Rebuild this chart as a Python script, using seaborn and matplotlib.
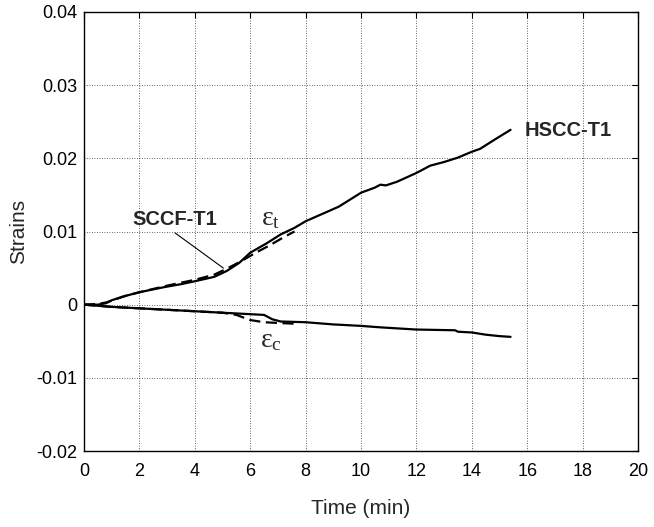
import numpy as np
import pandas as pd
import matplotlib
matplotlib.use("Agg")
import matplotlib.pyplot as plt
import seaborn as sns

# Tensile strain, HSCC-T1 (solid)
hscc_t_time = [0, 0.5, 0.8, 1.0, 1.4, 2.0, 2.9, 3.5, 4.0, 4.7, 5.15, 5.6, 6.0, 6.6, 7.1, 7.6,
               8.0, 8.6, 9.2, 10.0, 10.5, 10.7, 10.9, 11.3, 12.0, 12.5, 13.0, 13.5, 14.0,
               14.3, 14.8, 15.4]
hscc_t_strain = [0, 0.0000, 0.0002, 0.0006, 0.0011, 0.0017, 0.0024, 0.0028, 0.0032, 0.0038,
                 0.0046, 0.0057, 0.0071, 0.0084, 0.0096, 0.0105, 0.0114, 0.0124, 0.0134,
                 0.0153, 0.0160, 0.0164, 0.0163, 0.0168, 0.0180, 0.0190, 0.0195, 0.0201,
                 0.0209, 0.0213, 0.0225, 0.0239]

# Tensile strain, SCCF-T1 (dashed)
sccf_t_time = [0, 0.5, 0.8, 1.5, 2.0, 3.0, 4.0, 4.7, 5.2, 5.7, 6.2, 6.7, 7.2, 7.6]
sccf_t_strain = [0, 0.0001, 0.0003, 0.0012, 0.0017, 0.0026, 0.0034, 0.0041, 0.0050, 0.0060,
                 0.0071, 0.0081, 0.0092, 0.0100]

# Compressive strain, HSCC-T1 (solid)
hscc_c_time = [0, 1.0, 2.0, 3.0, 4.0, 5.0, 6.0, 6.5, 6.8, 7.1, 8.0, 9.0, 10.0, 10.7, 12.0,
               13.4, 13.5, 14.0, 14.5, 15.0, 15.4]
hscc_c_strain = [0, -0.0003, -0.0005, -0.0007, -0.0009, -0.0011, -0.0013, -0.0014, -0.0020,
                 -0.0023, -0.0024, -0.0027, -0.0029, -0.0031, -0.0034, -0.0035, -0.0037,
                 -0.0038, -0.0041, -0.0043, -0.0044]

# Compressive strain, SCCF-T1 (dashed)
sccf_c_time = [0, 1.0, 2.0, 3.0, 4.0, 5.0, 5.5, 6.0, 6.5, 7.0, 7.6]
sccf_c_strain = [0, -0.0003, -0.0005, -0.0007, -0.0009, -0.0011, -0.0014, -0.0021, -0.0024,
                 -0.0025, -0.0026]

x_ticks = list(range(0, 21, 2))
y_ticks = [-0.02, -0.01, 0, 0.01, 0.02, 0.03, 0.04]
y_tick_labels = ["-0.02", "-0.01", "0", "0.01", "0.02", "0.03", "0.04"]

sns.set_style("white")
plt.rcParams["font.family"] = ["Liberation Sans", "DejaVu Sans"]
plt.rcParams["axes.unicode_minus"] = False

fig = plt.figure(figsize=(6.54, 5.27), dpi=100)
ax = fig.add_axes([84 / 654, 1 - 451 / 527, (638 - 84) / 654, (451 - 12) / 527])

frames = [
    pd.DataFrame({"t": hscc_t_time, "s": hscc_t_strain, "k": "hscc_t"}),
    pd.DataFrame({"t": sccf_t_time, "s": sccf_t_strain, "k": "sccf_t"}),
    pd.DataFrame({"t": hscc_c_time, "s": hscc_c_strain, "k": "hscc_c"}),
    pd.DataFrame({"t": sccf_c_time, "s": sccf_c_strain, "k": "sccf_c"}),
]
styles = {"hscc_t": "-", "sccf_t": (0, (5, 2.5)), "hscc_c": "-", "sccf_c": (0, (5, 2.5))}
for df in frames:
    key = df["k"].iloc[0]
    sns.lineplot(data=df, x="t", y="s", ax=ax, color="black", linewidth=1.6,
                 linestyle=styles[key], estimator=None, sort=False, legend=False)

ax.set_xlim(0, 20)
ax.set_ylim(-0.02, 0.04)
ax.set_xticks(x_ticks)
ax.set_xticklabels([str(v) for v in x_ticks])
ax.set_yticks(y_ticks)
ax.set_yticklabels(y_tick_labels)
ax.grid(True, color="black", linestyle=(0, (1, 2)), linewidth=0.6, alpha=0.8)
ax.tick_params(direction="in", length=4, width=0.8, top=True, right=True,
               labelsize=13, colors="black")
ax.tick_params(axis="x", pad=9)
ax.tick_params(axis="y", pad=5)
for sp in ax.spines.values():
    sp.set_visible(True)
    sp.set_color("black")
    sp.set_linewidth(1.0)

ax.set_xlabel("Time (min)", fontsize=15, labelpad=13)
ax.set_ylabel("Strains", fontsize=15, labelpad=6)

ax.text(3.29, 0.01168, "SCCF-T1", fontsize=14.5, fontweight="bold", ha="center", va="center")
ax.plot([3.29, 5.03], [0.0098, 0.0050], color="black", linewidth=0.8)
ax.text(15.92, 0.02385, "HSCC-T1", fontsize=14.5, fontweight="bold", ha="left", va="center")
ax.text(6.75, 0.0117, r"$\mathregular{\varepsilon_t}$", fontsize=20,
        family="Liberation Serif", ha="center", va="center")
ax.text(6.75, -0.0049, r"$\mathregular{\varepsilon_c}$", fontsize=20,
        family="Liberation Serif", ha="center", va="center")

fig.savefig("out.png", dpi=100)
